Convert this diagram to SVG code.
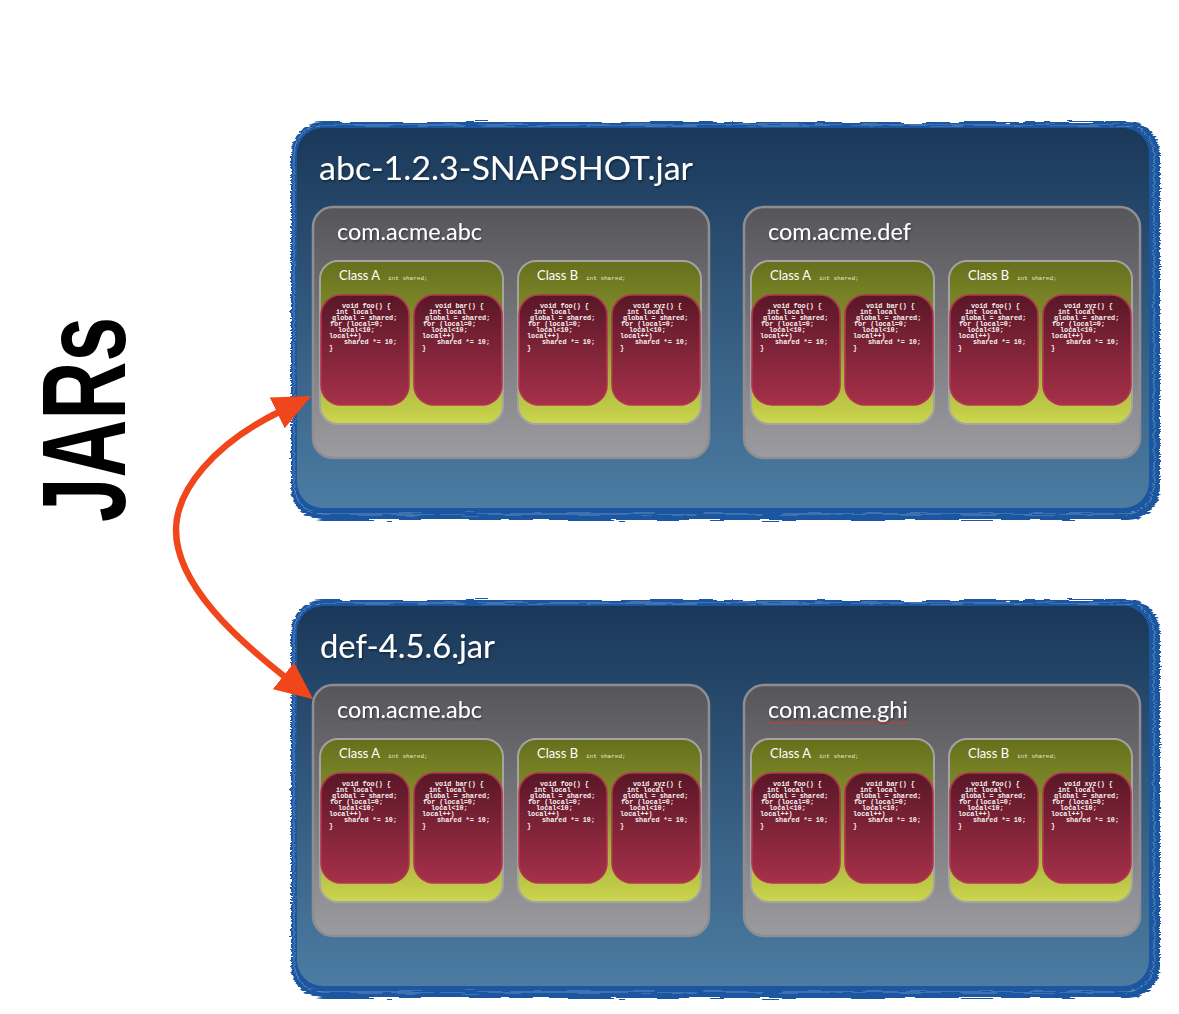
<svg xmlns="http://www.w3.org/2000/svg" width="1179" height="1014" viewBox="0 0 1179 1014">
<defs>
<linearGradient id="gJar" x1="0" y1="0" x2="0" y2="1"><stop offset="0" stop-color="#1a3859"/><stop offset="1" stop-color="#4c7ca2"/></linearGradient>
<linearGradient id="gPkg" x1="0" y1="0" x2="0" y2="1"><stop offset="0" stop-color="#56565a"/><stop offset="1" stop-color="#9c9ca0"/></linearGradient>
<linearGradient id="gCls" x1="0" y1="0" x2="0" y2="1"><stop offset="0" stop-color="#66701c"/><stop offset="0.45" stop-color="#8a9430"/><stop offset="1" stop-color="#ccd64e"/></linearGradient>
<linearGradient id="gMeth" x1="0" y1="0" x2="0" y2="1"><stop offset="0" stop-color="#591726"/><stop offset="1" stop-color="#a6304a"/></linearGradient>
<filter id="rough" x="-5%" y="-5%" width="110%" height="110%"><feTurbulence type="fractalNoise" baseFrequency="0.03 0.6" numOctaves="2" seed="4"/><feDisplacementMap in="SourceGraphic" scale="6" xChannelSelector="R" yChannelSelector="G"/></filter>
<filter id="shadow" x="-10%" y="-30%" width="120%" height="160%"><feDropShadow dx="1" dy="1.5" stdDeviation="1" flood-color="#000" flood-opacity="0.45"/></filter>
<marker id="ah" markerUnits="userSpaceOnUse" viewBox="0 0 40 36" markerWidth="40" markerHeight="36" refX="2" refY="18" orient="auto-start-reverse"><path d="M0,1 L38,18 L0,35 z" fill="#f0461c"/></marker>
<style>
.border{fill:#1f56a0;filter:url(#rough)}
.streak{fill:none;stroke:#cfe0f5;stroke-opacity:0.5;stroke-width:0.8;filter:url(#rough)}
.jar{fill:url(#gJar)}
.pkg{fill:url(#gPkg);stroke:#8e8e92;stroke-width:2.5}
.cls{fill:url(#gCls);stroke:#a4a4a2;stroke-width:2}
.meth{fill:url(#gMeth);stroke:#b3344f;stroke-width:1.6}
.title{font-family:"Lato","Open Sans","Liberation Sans",sans-serif;fill:#fff;font-size:33px;filter:url(#shadow)}
.plabel{font-family:"Lato","Open Sans","Liberation Sans",sans-serif;fill:#fff;font-size:24px;filter:url(#shadow)}
.clabel{font-family:"Lato","Open Sans","Liberation Sans",sans-serif;fill:#fff;font-size:14px}
.field{font-family:"Liberation Mono",monospace;fill:#e8e8d0;font-size:6px}
.code{font-family:"Liberation Mono",monospace;font-weight:bold;fill:#f6f2f2;font-size:6.8px}
.jars{font-family:"Liberation Sans",sans-serif;font-weight:bold;font-size:119px;fill:#000}
.arrow{fill:none;stroke:#f0461c;stroke-width:6.5}
</style>
</defs>
<rect width="1179" height="1014" fill="#fff"/>

<g id="jars-label"><text class="jars" transform="translate(125,522) rotate(-90)" textLength="205" lengthAdjust="spacingAndGlyphs">JARs</text></g>

<!-- JAR 1 -->
<g id="jar-abc" transform="translate(297,128)">
<rect class="border" x="-6" y="-6" width="869" height="398" rx="32"/>
<rect class="streak" x="-3" y="-3" width="860" height="389" rx="29"/>
<rect class="jar" x="0" y="0" width="852" height="380" rx="26"/>
<text class="title" x="22" y="52" textLength="374" lengthAdjust="spacingAndGlyphs">abc-1.2.3-SNAPSHOT.jar</text>

<g id="jar-abc-pkg-abc" transform="translate(16,79)">
<rect class="pkg" width="396" height="251" rx="20"/>
<text class="plabel" x="24" y="33" textLength="145" lengthAdjust="spacingAndGlyphs">com.acme.abc</text>
<g id="jar-abc-pkg-abc-classA" transform="translate(7,54)">
<rect class="cls" width="183" height="163" rx="18"/>
<text class="clabel" x="19" y="19" textLength="41" lengthAdjust="spacingAndGlyphs">Class A</text>
<text class="field" x="68" y="19">int shared;</text>
<g id="jar-abc-pkg-abc-classA-foo" transform="translate(1,34)"><rect class="meth" width="88" height="110" rx="20"/><text class="code"><tspan x="21" y="13">void foo() {</tspan><tspan x="15" y="19">int local</tspan><tspan x="11" y="25">global = shared;</tspan><tspan x="9" y="31">for (local=0;</tspan><tspan x="17" y="37">local&lt;10;</tspan><tspan x="8" y="43">local++)</tspan><tspan x="23" y="49">shared *= 10;</tspan><tspan x="8" y="55">}</tspan></text></g>
<g id="jar-abc-pkg-abc-classA-bar" transform="translate(94,34)"><rect class="meth" width="88" height="110" rx="20"/><text class="code"><tspan x="21" y="13">void bar() {</tspan><tspan x="15" y="19">int local</tspan><tspan x="11" y="25">global = shared;</tspan><tspan x="9" y="31">for (local=0;</tspan><tspan x="17" y="37">local&lt;10;</tspan><tspan x="8" y="43">local++)</tspan><tspan x="23" y="49">shared *= 10;</tspan><tspan x="8" y="55">}</tspan></text></g>
</g>
<g id="jar-abc-pkg-abc-classB" transform="translate(205,54)">
<rect class="cls" width="183" height="163" rx="18"/>
<text class="clabel" x="19" y="19" textLength="41" lengthAdjust="spacingAndGlyphs">Class B</text>
<text class="field" x="68" y="19">int shared;</text>
<g id="jar-abc-pkg-abc-classB-foo" transform="translate(1,34)"><rect class="meth" width="88" height="110" rx="20"/><text class="code"><tspan x="21" y="13">void foo() {</tspan><tspan x="15" y="19">int local</tspan><tspan x="11" y="25">global = shared;</tspan><tspan x="9" y="31">for (local=0;</tspan><tspan x="17" y="37">local&lt;10;</tspan><tspan x="8" y="43">local++)</tspan><tspan x="23" y="49">shared *= 10;</tspan><tspan x="8" y="55">}</tspan></text></g>
<g id="jar-abc-pkg-abc-classB-xyz" transform="translate(94,34)"><rect class="meth" width="88" height="110" rx="20"/><text class="code"><tspan x="21" y="13">void xyz() {</tspan><tspan x="15" y="19">int local</tspan><tspan x="11" y="25">global = shared;</tspan><tspan x="9" y="31">for (local=0;</tspan><tspan x="17" y="37">local&lt;10;</tspan><tspan x="8" y="43">local++)</tspan><tspan x="23" y="49">shared *= 10;</tspan><tspan x="8" y="55">}</tspan></text></g>
</g>
</g>

<g id="jar-abc-pkg-def" transform="translate(447,79)">
<rect class="pkg" width="396" height="251" rx="20"/>
<text class="plabel" x="24" y="33" textLength="143" lengthAdjust="spacingAndGlyphs">com.acme.def</text>
<g id="jar-abc-pkg-def-classA" transform="translate(7,54)">
<rect class="cls" width="183" height="163" rx="18"/>
<text class="clabel" x="19" y="19" textLength="41" lengthAdjust="spacingAndGlyphs">Class A</text>
<text class="field" x="68" y="19">int shared;</text>
<g id="jar-abc-pkg-def-classA-foo" transform="translate(1,34)"><rect class="meth" width="88" height="110" rx="20"/><text class="code"><tspan x="21" y="13">void foo() {</tspan><tspan x="15" y="19">int local</tspan><tspan x="11" y="25">global = shared;</tspan><tspan x="9" y="31">for (local=0;</tspan><tspan x="17" y="37">local&lt;10;</tspan><tspan x="8" y="43">local++)</tspan><tspan x="23" y="49">shared *= 10;</tspan><tspan x="8" y="55">}</tspan></text></g>
<g id="jar-abc-pkg-def-classA-bar" transform="translate(94,34)"><rect class="meth" width="88" height="110" rx="20"/><text class="code"><tspan x="21" y="13">void bar() {</tspan><tspan x="15" y="19">int local</tspan><tspan x="11" y="25">global = shared;</tspan><tspan x="9" y="31">for (local=0;</tspan><tspan x="17" y="37">local&lt;10;</tspan><tspan x="8" y="43">local++)</tspan><tspan x="23" y="49">shared *= 10;</tspan><tspan x="8" y="55">}</tspan></text></g>
</g>
<g id="jar-abc-pkg-def-classB" transform="translate(205,54)">
<rect class="cls" width="183" height="163" rx="18"/>
<text class="clabel" x="19" y="19" textLength="41" lengthAdjust="spacingAndGlyphs">Class B</text>
<text class="field" x="68" y="19">int shared;</text>
<g id="jar-abc-pkg-def-classB-foo" transform="translate(1,34)"><rect class="meth" width="88" height="110" rx="20"/><text class="code"><tspan x="21" y="13">void foo() {</tspan><tspan x="15" y="19">int local</tspan><tspan x="11" y="25">global = shared;</tspan><tspan x="9" y="31">for (local=0;</tspan><tspan x="17" y="37">local&lt;10;</tspan><tspan x="8" y="43">local++)</tspan><tspan x="23" y="49">shared *= 10;</tspan><tspan x="8" y="55">}</tspan></text></g>
<g id="jar-abc-pkg-def-classB-xyz" transform="translate(94,34)"><rect class="meth" width="88" height="110" rx="20"/><text class="code"><tspan x="21" y="13">void xyz() {</tspan><tspan x="15" y="19">int local</tspan><tspan x="11" y="25">global = shared;</tspan><tspan x="9" y="31">for (local=0;</tspan><tspan x="17" y="37">local&lt;10;</tspan><tspan x="8" y="43">local++)</tspan><tspan x="23" y="49">shared *= 10;</tspan><tspan x="8" y="55">}</tspan></text></g>
</g>
</g>
</g>

<!-- JAR 2 -->
<g id="jar-def" transform="translate(297,606)">
<rect class="border" x="-6" y="-6" width="869" height="398" rx="32"/>
<rect class="streak" x="-3" y="-3" width="860" height="389" rx="29"/>
<rect class="jar" x="0" y="0" width="852" height="380" rx="26"/>
<text class="title" x="23" y="52" textLength="175" lengthAdjust="spacingAndGlyphs">def-4.5.6.jar</text>

<g id="jar-def-pkg-abc" transform="translate(16,79)">
<rect class="pkg" width="396" height="251" rx="20"/>
<text class="plabel" x="24" y="33" textLength="145" lengthAdjust="spacingAndGlyphs">com.acme.abc</text>
<g id="jar-def-pkg-abc-classA" transform="translate(7,54)">
<rect class="cls" width="183" height="163" rx="18"/>
<text class="clabel" x="19" y="19" textLength="41" lengthAdjust="spacingAndGlyphs">Class A</text>
<text class="field" x="68" y="19">int shared;</text>
<g id="jar-def-pkg-abc-classA-foo" transform="translate(1,34)"><rect class="meth" width="88" height="110" rx="20"/><text class="code"><tspan x="21" y="13">void foo() {</tspan><tspan x="15" y="19">int local</tspan><tspan x="11" y="25">global = shared;</tspan><tspan x="9" y="31">for (local=0;</tspan><tspan x="17" y="37">local&lt;10;</tspan><tspan x="8" y="43">local++)</tspan><tspan x="23" y="49">shared *= 10;</tspan><tspan x="8" y="55">}</tspan></text></g>
<g id="jar-def-pkg-abc-classA-bar" transform="translate(94,34)"><rect class="meth" width="88" height="110" rx="20"/><text class="code"><tspan x="21" y="13">void bar() {</tspan><tspan x="15" y="19">int local</tspan><tspan x="11" y="25">global = shared;</tspan><tspan x="9" y="31">for (local=0;</tspan><tspan x="17" y="37">local&lt;10;</tspan><tspan x="8" y="43">local++)</tspan><tspan x="23" y="49">shared *= 10;</tspan><tspan x="8" y="55">}</tspan></text></g>
</g>
<g id="jar-def-pkg-abc-classB" transform="translate(205,54)">
<rect class="cls" width="183" height="163" rx="18"/>
<text class="clabel" x="19" y="19" textLength="41" lengthAdjust="spacingAndGlyphs">Class B</text>
<text class="field" x="68" y="19">int shared;</text>
<g id="jar-def-pkg-abc-classB-foo" transform="translate(1,34)"><rect class="meth" width="88" height="110" rx="20"/><text class="code"><tspan x="21" y="13">void foo() {</tspan><tspan x="15" y="19">int local</tspan><tspan x="11" y="25">global = shared;</tspan><tspan x="9" y="31">for (local=0;</tspan><tspan x="17" y="37">local&lt;10;</tspan><tspan x="8" y="43">local++)</tspan><tspan x="23" y="49">shared *= 10;</tspan><tspan x="8" y="55">}</tspan></text></g>
<g id="jar-def-pkg-abc-classB-xyz" transform="translate(94,34)"><rect class="meth" width="88" height="110" rx="20"/><text class="code"><tspan x="21" y="13">void xyz() {</tspan><tspan x="15" y="19">int local</tspan><tspan x="11" y="25">global = shared;</tspan><tspan x="9" y="31">for (local=0;</tspan><tspan x="17" y="37">local&lt;10;</tspan><tspan x="8" y="43">local++)</tspan><tspan x="23" y="49">shared *= 10;</tspan><tspan x="8" y="55">}</tspan></text></g>
</g>
</g>

<g id="jar-def-pkg-ghi" transform="translate(447,79)">
<rect class="pkg" width="396" height="251" rx="20"/>
<text class="plabel" x="24" y="33" textLength="140" lengthAdjust="spacingAndGlyphs">com.acme.ghi</text>
<path d="M24,37.5 H164" fill="none" stroke="#e0322a" stroke-width="1.6" stroke-dasharray="2 1.6"/>
<g id="jar-def-pkg-ghi-classA" transform="translate(7,54)">
<rect class="cls" width="183" height="163" rx="18"/>
<text class="clabel" x="19" y="19" textLength="41" lengthAdjust="spacingAndGlyphs">Class A</text>
<text class="field" x="68" y="19">int shared;</text>
<g id="jar-def-pkg-ghi-classA-foo" transform="translate(1,34)"><rect class="meth" width="88" height="110" rx="20"/><text class="code"><tspan x="21" y="13">void foo() {</tspan><tspan x="15" y="19">int local</tspan><tspan x="11" y="25">global = shared;</tspan><tspan x="9" y="31">for (local=0;</tspan><tspan x="17" y="37">local&lt;10;</tspan><tspan x="8" y="43">local++)</tspan><tspan x="23" y="49">shared *= 10;</tspan><tspan x="8" y="55">}</tspan></text></g>
<g id="jar-def-pkg-ghi-classA-bar" transform="translate(94,34)"><rect class="meth" width="88" height="110" rx="20"/><text class="code"><tspan x="21" y="13">void bar() {</tspan><tspan x="15" y="19">int local</tspan><tspan x="11" y="25">global = shared;</tspan><tspan x="9" y="31">for (local=0;</tspan><tspan x="17" y="37">local&lt;10;</tspan><tspan x="8" y="43">local++)</tspan><tspan x="23" y="49">shared *= 10;</tspan><tspan x="8" y="55">}</tspan></text></g>
</g>
<g id="jar-def-pkg-ghi-classB" transform="translate(205,54)">
<rect class="cls" width="183" height="163" rx="18"/>
<text class="clabel" x="19" y="19" textLength="41" lengthAdjust="spacingAndGlyphs">Class B</text>
<text class="field" x="68" y="19">int shared;</text>
<g id="jar-def-pkg-ghi-classB-foo" transform="translate(1,34)"><rect class="meth" width="88" height="110" rx="20"/><text class="code"><tspan x="21" y="13">void foo() {</tspan><tspan x="15" y="19">int local</tspan><tspan x="11" y="25">global = shared;</tspan><tspan x="9" y="31">for (local=0;</tspan><tspan x="17" y="37">local&lt;10;</tspan><tspan x="8" y="43">local++)</tspan><tspan x="23" y="49">shared *= 10;</tspan><tspan x="8" y="55">}</tspan></text></g>
<g id="jar-def-pkg-ghi-classB-xyz" transform="translate(94,34)"><rect class="meth" width="88" height="110" rx="20"/><text class="code"><tspan x="21" y="13">void xyz() {</tspan><tspan x="15" y="19">int local</tspan><tspan x="11" y="25">global = shared;</tspan><tspan x="9" y="31">for (local=0;</tspan><tspan x="17" y="37">local&lt;10;</tspan><tspan x="8" y="43">local++)</tspan><tspan x="23" y="49">shared *= 10;</tspan><tspan x="8" y="55">}</tspan></text></g>
</g>
</g>
</g>

<g id="connectors">
<path class="arrow" d="M279,412 C214,444 176,490 176,530 C176,585 238,640 285,677" marker-start="url(#ah)" marker-end="url(#ah)"/>
</g>
</svg>
